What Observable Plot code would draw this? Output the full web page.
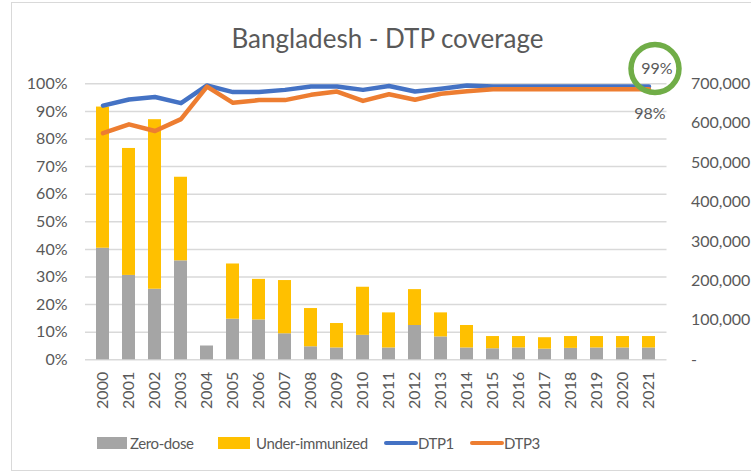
<!DOCTYPE html>
<html>
<head>
<meta charset="utf-8">
<script src="https://cdn.jsdelivr.net/npm/d3@7"></script>
<script src="https://cdn.jsdelivr.net/npm/@observablehq/plot@0.6"></script>
<style>
  html, body { margin: 0; padding: 0; background: #fff; overflow: hidden; }
  #wrap { position: relative; width: 751px; height: 476px; font-family: Lato, "Open Sans", sans-serif; color: #595959; }
  #frame { position: absolute; left: 11px; top: 2px; width: 800px; height: 469px; border: 1.5px solid #d9d9d9; box-sizing: border-box; }
  #title { position: relative; height: 38px; }
  #title span { position: absolute; left: 0; right: 0; top: 25px; text-align: center; padding-left: 24px; font-size: 26px; line-height: 26px; white-space: nowrap; }
  #chart { position: relative; height: 390px; }
  #chart svg { overflow: visible; }
  #legend { position: relative; height: 48px; font-size: 15px; letter-spacing: -0.4px; }
  .item { position: absolute; top: 5px; height: 20px; display: flex; align-items: center; white-space: nowrap; }
  .sw { display: inline-block; margin-right: 3px; }
</style>
</head>
<body>
<div id="wrap">
  <div id="frame"></div>
  <div id="title"><span>Bangladesh - DTP coverage</span></div>
  <div id="chart"></div>
  <div id="legend"></div>
</div>
<script>
const years = [2000,2001,2002,2003,2004,2005,2006,2007,2008,2009,2010,2011,2012,2013,2014,2015,2016,2017,2018,2019,2020,2021];
const zeroDose = [283000,214000,179000,251000,35000,103000,101000,66000,33000,30000,62000,30000,87000,58000,30000,28000,30000,27000,29000,30000,30000,30000];
const underImmunized = [358000,322000,430000,212000,0,140000,103000,135000,97000,62000,122000,89000,91000,61000,57000,31000,29000,29000,30000,29000,29000,29000];
const dtp1 = [92.1,94.3,95.2,93.0,99.4,97.0,97.0,97.8,99.0,99.0,97.8,99.2,97.2,98.2,99.4,99,99,99,99,99,99,99];
const dtp3 = [82.1,85.3,82.9,87.2,99.0,93.1,94.1,94.1,96.0,97.2,93.8,96.2,94.2,96.4,97.3,98,98,98,98,98,98,98];
const leftTicks = [0,10,20,30,40,50,60,70,80,90,100];
const rightTicks = [0,100000,200000,300000,400000,500000,600000,700000];
const rightMax = 700000; // right axis maximum aligned with 100%
const seriesNames = ["Zero-dose","Under-immunized","DTP1","DTP3"];
const colors = ["#A5A5A5","#FFC000","#4472C4","#ED7D31"];
const circleColor = "#70AD47";

const toPct = v => v / rightMax * 100;

const barData = [];
years.forEach((yr, i) => {
  barData.push({year: yr, type: seriesNames[0], value: toPct(zeroDose[i])});
  barData.push({year: yr, type: seriesNames[1], value: toPct(underImmunized[i])});
});
const lineData1 = years.map((yr, i) => ({year: yr, value: dtp1[i]}));
const lineData3 = years.map((yr, i) => ({year: yr, value: dtp3[i]}));
const last = years.length - 1;
const end1 = [{year: years[last], value: dtp1[last]}];
const end3 = [{year: years[last], value: dtp3[last]}];

const fmt = d3.format(",");
const chart = Plot.plot({
  width: 751,
  height: 390,
  marginLeft: 85,
  marginRight: 84.5,
  marginTop: 45.3,
  marginBottom: 68.7,
  style: {fontFamily: "Lato, 'Open Sans', sans-serif", fontSize: "16px", color: "#595959", background: "transparent"},
  x: {type: "band", domain: years, paddingInner: 0.5, paddingOuter: 0.25, label: null},
  y: {domain: [0, 100], label: null},
  color: {domain: seriesNames.slice(0, 2), range: colors.slice(0, 2)},
  marks: [
    Plot.gridY(leftTicks, {stroke: "#d9d9d9", strokeOpacity: 1, strokeWidth: 1.5}),
    Plot.barY(barData, Plot.stackY({x: "year", y: "value", fill: "type", order: seriesNames.slice(0, 2)})),
    Plot.lineY(lineData1, {x: "year", y: "value", stroke: colors[2], strokeWidth: 4.5}),
    Plot.lineY(lineData3, {x: "year", y: "value", stroke: colors[3], strokeWidth: 4.5}),
    Plot.axisY(leftTicks, {anchor: "left", tickSize: 0, tickPadding: 18, tickFormat: d => d + "%", fontSize: 16, fill: "#595959"}),
    Plot.axisY(rightTicks.map(toPct), {anchor: "right", tickSize: 0, tickPadding: 24, textAnchor: "start", tickFormat: d => { const v = Math.round(d * rightMax / 100); return v === 0 ? "-" : fmt(v); }, fontSize: 16, fill: "#595959"}),
    Plot.axisX({tickSize: 0, tickRotate: -90, tickPadding: 12, tickFormat: d => String(d), fontSize: 16, fill: "#595959", label: null}),
    Plot.dot(end1, {x: "year", y: "value", r: 24, stroke: circleColor, strokeWidth: 5.5, fill: "none", dx: 6, dy: -18}),
    Plot.text(end1, {x: "year", y: "value", text: d => d.value + "%", dx: 8, dy: -18, fontSize: 16, fill: "#595959"}),
    Plot.text(end3, {x: "year", y: "value", text: d => d.value + "%", dx: 1, dy: 24.5, fontSize: 16, fill: "#595959"})
  ]
});
document.getElementById("chart").appendChild(chart);

// legend
const legend = document.getElementById("legend");
const legendPos = [97, 218, 384, 470];
seriesNames.forEach((name, i) => {
  const item = document.createElement("div");
  item.className = "item";
  item.style.left = legendPos[i] + "px";
  const sw = document.createElement("span");
  sw.className = "sw";
  if (i < 2) {
    sw.style.width = (i === 0 ? 30 : 32) + "px";
    sw.style.height = "12px";
    sw.style.background = colors[i];
    sw.style.marginRight = (i === 0 ? 3 : 6) + "px";
  } else {
    sw.style.width = "34px";
    sw.style.height = "4.5px";
    sw.style.borderRadius = "2px";
    sw.style.background = colors[i];
    sw.style.marginRight = "0px";
  }
  item.appendChild(sw);
  const t = document.createElement("span");
  t.textContent = name;
  item.appendChild(t);
  legend.appendChild(item);
});
</script>
</body>
</html>
